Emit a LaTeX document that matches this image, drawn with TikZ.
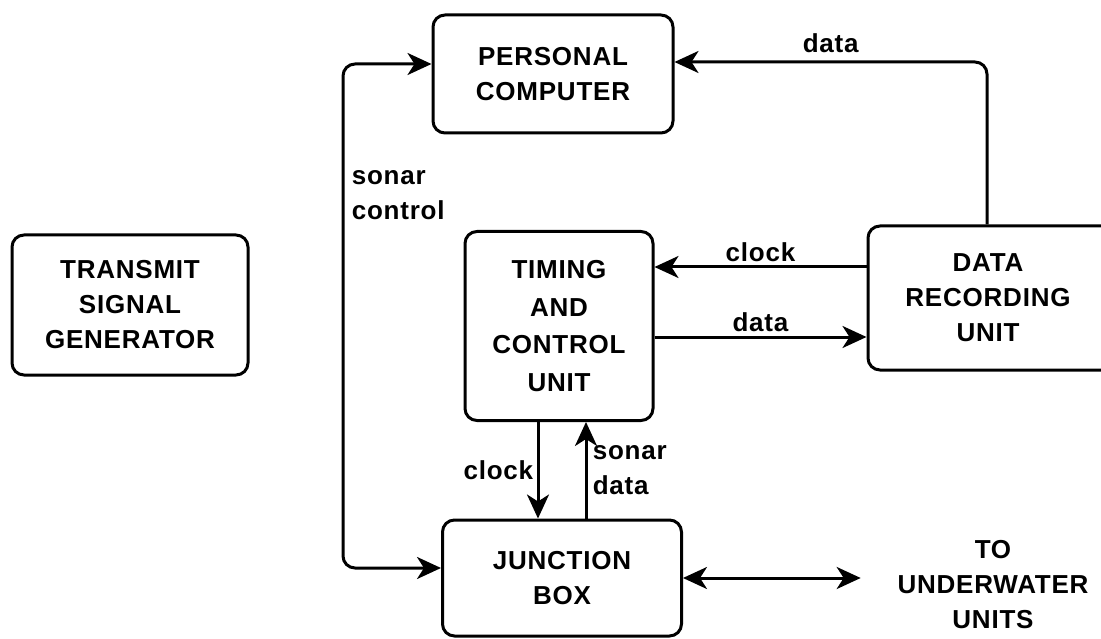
\documentclass[tikz,border=0pt]{standalone}
\usepackage{fontspec}
\setmainfont[LetterSpace=3]{Liberation Sans}
\usetikzlibrary{positioning,arrows.meta}

\begin{document}
\begin{tikzpicture}[x=1pt,y=-1pt,line width=3pt,
    every node/.style={font=\fontsize{26}{35}\selectfont\bfseries,align=center},
    box/.style={draw,rounded corners=12pt,inner sep=0pt},
    sig/.style={-{Stealth[length=24pt,width=22pt,inset=7pt]}},
    both/.style={{Stealth[length=24pt,width=22pt,inset=7pt]}-{Stealth[length=24pt,width=22pt,inset=7pt]}}]
  \useasboundingbox (0,0) rectangle (1101,639);
  \clip (0,0) rectangle (1101,639);
  % units
  \node[box,minimum width=236pt,minimum height=140pt] (tsg) at (130,305) {TRANSMIT\\SIGNAL\\GENERATOR};
  \node[box,minimum width=240pt,minimum height=118pt] (pc) at (553,74) {PERSONAL\\COMPUTER};
  \node[box,minimum width=188pt,minimum height=189pt,font=\fontsize{26}{37.5}\selectfont\bfseries] (tcu) at (559,326) {TIMING\\AND\\CONTROL\\UNIT};
  \node[box,minimum width=280pt,minimum height=144pt,
        label={[xshift=-20pt]center:{DATA\\RECORDING\\UNIT}}] (dru) at (1008,298) {};
  \node[box,minimum width=239pt,minimum height=116pt] (jb) at (562,578) {JUNCTION\\BOX};
  \node (uw) at (993,585) {TO\\UNDERWATER\\UNITS};
  % helper points for the lines
  \coordinate (dtop) at (987,62);
  \coordinate (sc1) at (343,64);
  \coordinate (sc2) at (343,568);
  \coordinate (ck) at (0,267);
  \coordinate (dt) at (0,337);
  \coordinate (cd) at (538,0);
  \coordinate (sd) at (586,0);
  % connections
  \draw[sig,rounded corners=12pt] (dru.north -| dtop) |- node[pos=0.75,above,yshift=4pt]{data} (pc.east |- dtop);
  \draw[both,rounded corners=12pt] (pc.west |- sc1) -- (sc1) -- node[pos=0.26,right,align=left,xshift=4pt]{sonar\\control} (sc2) -- (jb.west |- sc2);
  \draw[sig] (dru.west |- ck) -- node[above]{clock} (tcu.east |- ck);
  \draw[sig] (tcu.east |- dt) -- node[above]{data} (dru.west |- dt);
  \draw[sig] (tcu.south -| cd) -- node[left]{clock} (jb.north -| cd);
  \draw[sig] (jb.north -| sd) -- node[right,align=left,xshift=2pt]{sonar\\data} (tcu.south -| sd);
  \draw[both] (jb.east) -- ([xshift=-32pt]uw.west |- jb.east);
\end{tikzpicture}
\end{document}
